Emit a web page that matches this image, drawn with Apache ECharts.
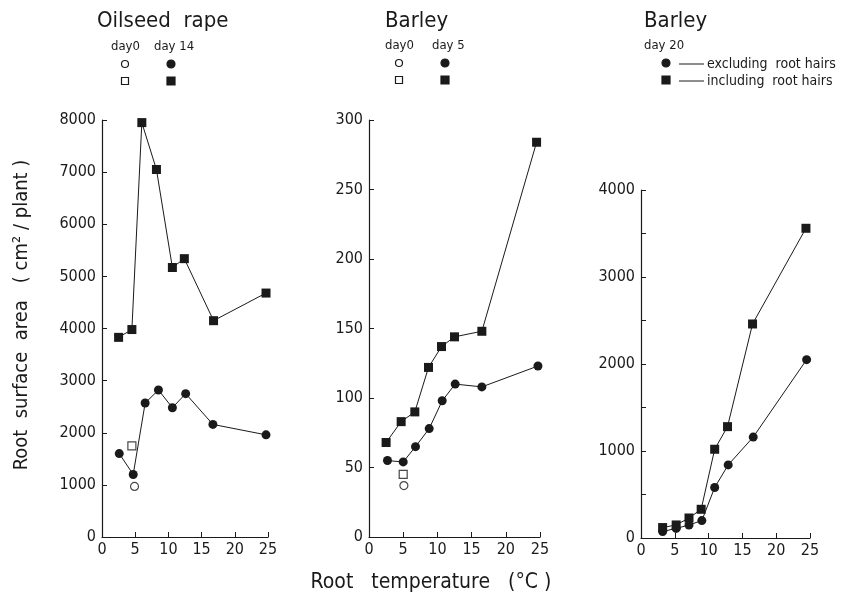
<!DOCTYPE html>
<html>
<head>
<meta charset="utf-8">
<script src="https://cdn.jsdelivr.net/npm/echarts@6/dist/echarts.min.js"></script>
<style>
  html, body { margin: 0; padding: 0; background: #fff; }
  #chart { width: 848px; height: 603px; }
</style>
</head>
<body>
<div id="chart"></div>
<script>
// Oilseed rape, day 14 (filled) and day 0 (open)
const rapeSqX = [2.5, 4.5, 6.0, 8.2, 10.6, 12.4, 16.8, 24.7];
const rapeSqY = [3830, 3980, 7950, 7050, 5170, 5340, 4150, 4680];
const rapeCiX = [2.6, 4.7, 6.5, 8.5, 10.6, 12.6, 16.7, 24.7];
const rapeCiY = [1600, 1200, 2570, 2820, 2480, 2750, 2160, 1960];
const rapeDay0SqX = [4.5], rapeDay0SqY = [1750];
const rapeDay0CiX = [4.9], rapeDay0CiY = [970];

// Barley, day 5 (filled) and day 0 (open)
const barSqX = [2.5, 4.7, 6.7, 8.7, 10.6, 12.5, 16.5, 24.5];
const barSqY = [68, 83, 90, 122, 137, 144, 148, 284];
const barCiX = [2.7, 5.0, 6.8, 8.8, 10.7, 12.6, 16.5, 24.7];
const barCiY = [55, 54, 65, 78, 98, 110, 108, 123];
const barDay0SqX = [5.0], barDay0SqY = [45];
const barDay0CiX = [5.1], barDay0CiY = [37];

// Barley day 20, including (squares) / excluding (circles) root hairs
const b20SqX = [3.2, 5.2, 7.1, 8.9, 10.9, 12.8, 16.5, 24.4];
const b20SqY = [120, 150, 230, 330, 1020, 1280, 2460, 3560];
const b20CiX = [3.2, 5.2, 7.1, 9.0, 10.9, 12.9, 16.6, 24.5];
const b20CiY = [75, 110, 150, 200, 580, 840, 1160, 2050];

const xTicks = [0, 5, 10, 15, 20, 25];

const INK = "#1a1a1a";
const FONT = "'DejaVu Sans Condensed', 'DejaVu Sans', sans-serif";

function zip(xs, ys) { return xs.map((x, i) => [x, ys[i]]); }

function xAxisFor(gridIndex) {
  return {
    gridIndex, type: "value", min: 0, max: 25, interval: 5,
    axisLine: { show: true, lineStyle: { color: INK, width: 1.2 } },
    axisTick: { show: true, inside: true, length: 5, lineStyle: { color: INK } },
    axisLabel: { color: INK, fontFamily: FONT, fontSize: 16, margin: 5,
      formatter: (v) => xTicks.includes(v) ? String(v) : "" },
    splitLine: { show: false },
  };
}

function yAxisFor(gridIndex, max, interval, labelEvery) {
  return {
    gridIndex, type: "value", min: 0, max, interval,
    axisLine: { show: true, lineStyle: { color: INK, width: 1.2 } },
    axisTick: { show: true, inside: true, length: 5, lineStyle: { color: INK } },
    axisLabel: { color: INK, fontFamily: FONT, fontSize: 16, margin: 6,
      formatter: (v) => (v % labelEvery === 0 ? String(v) : "") },
    splitLine: { show: false },
  };
}

function lineSeries(idx, data, symbol, size) {
  return {
    type: "line", xAxisIndex: idx, yAxisIndex: idx, data,
    symbol, symbolSize: size,
    lineStyle: { color: INK, width: 1 },
    itemStyle: { color: INK },
    animation: false,
  };
}

function openSeries(idx, data, symbol, size) {
  return {
    type: "scatter", xAxisIndex: idx, yAxisIndex: idx, data,
    symbol, symbolSize: size,
    itemStyle: { color: "#fff", borderColor: INK, borderWidth: 1.2 },
    animation: false,
  };
}

const titleStyle = { fill: INK, font: "22px " + FONT };
const dayStyle = { fill: INK, font: "13px " + FONT };
const legStyle = { fill: INK, font: "14px " + FONT };

function circle(cx, cy, r, filled) {
  return { type: "circle", shape: { cx, cy, r },
    style: { fill: filled ? INK : "#fff", stroke: INK, lineWidth: 1.2 } };
}
function square(cx, cy, s, filled) {
  return { type: "rect", shape: { x: cx - s / 2, y: cy - s / 2, width: s, height: s },
    style: { fill: filled ? INK : "#fff", stroke: INK, lineWidth: 1.2 } };
}
function text(x, y, str, style) {
  return { type: "text", x, y, style: Object.assign({ text: str, textVerticalAlign: "middle" }, style) };
}

const option = {
  backgroundColor: "#fff",
  animation: false,
  grid: [
    { left: 102, top: 120, width: 166, height: 417 },
    { left: 369, top: 120, width: 171, height: 417 },
    { left: 641, top: 190, width: 169, height: 348 },
  ],
  xAxis: [xAxisFor(0), xAxisFor(1), xAxisFor(2)],
  yAxis: [
    yAxisFor(0, 8000, 1000, 1000),
    yAxisFor(1, 300, 50, 50),
    yAxisFor(2, 4000, 500, 1000),
  ],
  series: [
    lineSeries(0, zip(rapeSqX, rapeSqY), "rect", 9),
    lineSeries(0, zip(rapeCiX, rapeCiY), "circle", 9),
    openSeries(0, zip(rapeDay0SqX, rapeDay0SqY), "rect", 8),
    openSeries(0, zip(rapeDay0CiX, rapeDay0CiY), "circle", 8),
    lineSeries(1, zip(barSqX, barSqY), "rect", 9),
    lineSeries(1, zip(barCiX, barCiY), "circle", 9),
    openSeries(1, zip(barDay0SqX, barDay0SqY), "rect", 8),
    openSeries(1, zip(barDay0CiX, barDay0CiY), "circle", 8),
    lineSeries(2, zip(b20SqX, b20SqY), "rect", 9),
    lineSeries(2, zip(b20CiX, b20CiY), "circle", 9),
  ],
  graphic: [
    // panel titles
    text(97, 21, "Oilseed  rape", titleStyle),
    text(385, 21, "Barley", titleStyle),
    text(644, 21, "Barley", titleStyle),
    // panel 1 legend
    text(111, 47, "day0", dayStyle),
    text(154, 47, "day 14", dayStyle),
    circle(125, 64, 3.5, false), circle(171, 64, 4, true),
    square(125, 81, 7, false), square(171, 81, 8, true),
    // panel 2 legend
    text(385, 46, "day0", dayStyle),
    text(432, 46, "day 5", dayStyle),
    circle(399, 63, 3.5, false), circle(445, 63, 4, true),
    square(399, 80, 7, false), square(445, 80, 8, true),
    // panel 3 legend
    text(644, 46, "day 20", dayStyle),
    circle(666, 63, 4, true), square(666, 80, 8, true),
    { type: "line", shape: { x1: 679, y1: 64, x2: 704, y2: 64 }, style: { stroke: INK, lineWidth: 1 } },
    { type: "line", shape: { x1: 679, y1: 81, x2: 704, y2: 81 }, style: { stroke: INK, lineWidth: 1 } },
    text(707, 64, "excluding  root hairs", legStyle),
    text(707, 81, "including  root hairs", legStyle),
    // axis titles
    { type: "text", x: 22, y: 315, rotation: Math.PI / 2,
      style: { text: "Root  surface  area   ( cm² / plant )", fill: INK, font: "20px " + FONT,
        textAlign: "center", textVerticalAlign: "middle" } },
    { type: "text", x: 431, y: 583,
      style: { text: "Root   temperature   (°C )", fill: INK, font: "21px " + FONT,
        textAlign: "center", textVerticalAlign: "middle" } },
  ],
};

const chart = echarts.init(document.getElementById("chart"), null, { renderer: "canvas" });
chart.setOption(option);
</script>
</body>
</html>
